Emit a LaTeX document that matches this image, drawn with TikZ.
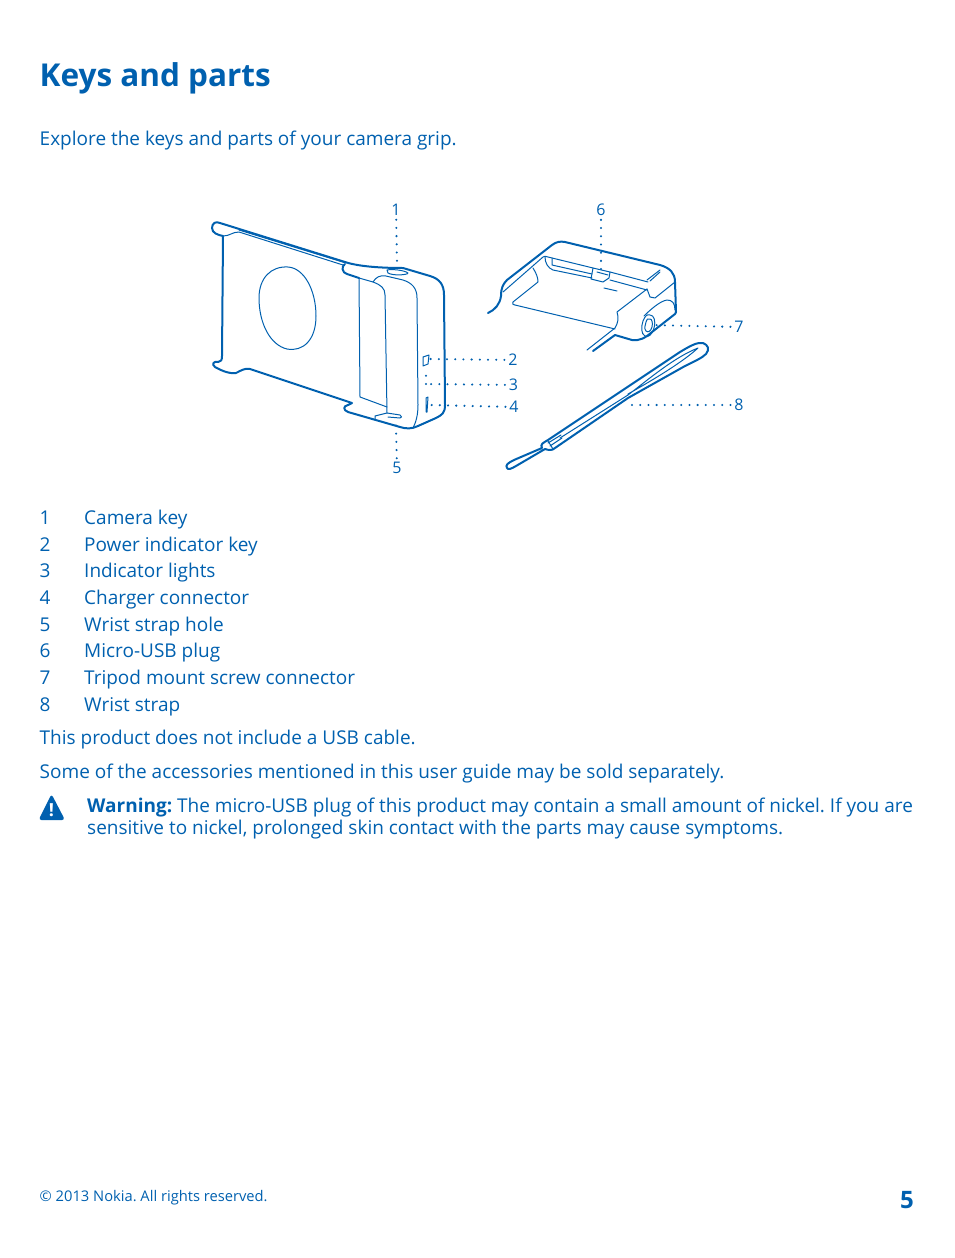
\documentclass[tikz,border=0pt]{standalone}
\usepackage{fontspec}
\setmainfont{Open Sans}
\usepackage{xcolor}
\usepackage{tikz}
\usetikzlibrary{positioning}
\definecolor{nokiablue}{HTML}{0060AF}
\tikzset{
  txt/.style    = {nokiablue, anchor=base west, inner sep=0pt, font=\frenchspacing\fontsize{19}{23}\selectfont},
  heading/.style = {txt, font=\fontsize{31.5}{38}\selectfont\bfseries},
  callout/.style = {nokiablue, inner sep=0pt, outer sep=4pt, font=\fontsize{16}{19}\selectfont},
  leader/.style = {nokiablue, line width=2.3pt, line cap=round, dash pattern=on 0pt off 8.2pt},
  heavy/.style  = {nokiablue, line width=2pt, line join=round, line cap=round},
  thin/.style   = {nokiablue, line width=1pt, line join=round, line cap=round},
}
\begin{document}
\begin{tikzpicture}[x=1pt,y=-1pt]
      \useasboundingbox (0,0) rectangle (954,1258);
      \node [heading] (title) at (39.5,86) {Keys and parts};
      \node [txt] (intro) at (39.5,145) {Explore the keys and parts of your camera grip.};

      % grip body
      \draw[heavy] (223,236) .. controls (218,235) and (212,233) .. (212,228)
        .. controls (212,223) and (216,221) .. (220,223) -- (345,262)
        .. controls (360,267) and (385,268) .. (403,268) -- (430,276)
        .. controls (440,279) and (444,285) .. (444,295) -- (445,405)
        .. controls (445,413) and (442,415) .. (436,418) -- (418,426)
        .. controls (412,429) and (406,429) .. (400,427) -- (348,412)
        .. controls (343,410) and (343,406) .. (348,405) -- (352,403)
        -- (250,369) .. controls (245,368) and (242,370) .. (236,373)
        .. controls (230,374) and (222,371) .. (215,367)
        .. controls (211,364) and (214,361) .. (218,362)
        .. controls (221,362) and (222,360) .. (222,356) -- (223,236);
      \draw[thin] (223,236) .. controls (230,236) and (232,232) .. (239,232) -- (343,265);
      \draw[thin] (239,230) -- (346,263);
      \draw[heavy] (345,264) .. controls (341,266) and (342,273) .. (347,274) -- (359,278);
      \draw[thin] (359,278) -- (373,282) .. controls (376,277) and (380,275) .. (386,276) -- (403,280)
        .. controls (412,283) and (417,288) .. (417,298) -- (418,405)
        .. controls (418,415) and (416,422) .. (413,428);
      \draw[thin] (359,278) -- (360,397) -- (387,407);
      \draw[thin] (373,282) .. controls (381,285) and (385,288) .. (385,295) -- (387,413);
      \draw[thin] (375,419) -- (375,416) -- (387,413) -- (400,415)
        .. controls (402,416) and (402,418) .. (400,418) -- (388,417);
      \draw[thin] (288,267) .. controls (304,268) and (316,290) .. (316,316)
        .. controls (316,340) and (303,352) .. (287,349)
        .. controls (270,345) and (259,323) .. (259,298)
        .. controls (259,278) and (271,266) .. (288,267);
      \draw[thin] (387,270) .. controls (392,269) and (404,270) .. (408,273)
        .. controls (408,275) and (393,276) .. (388,273) -- cycle;
      \draw[thin] (423,357) -- (429,355) -- (428,364) -- (423,366) -- cycle;
      \draw[thin] (426,398) -- (428,397) -- (427,412) -- (426,412) -- cycle;

      % grip handle part
      \draw[heavy] (488,313) .. controls (495,310) and (500,304) .. (501,296)
        .. controls (501,288) and (503,284) .. (507,280) -- (552,245)
        .. controls (556,242) and (560,241) .. (565,242) -- (660,265)
        .. controls (670,268) and (675,273) .. (675,282) -- (676,312);
      \draw[heavy] (676,312) -- (675,314) -- (652,332)
        .. controls (645,338) and (640,341) .. (632,340) -- (615,335) -- (593,351);
      \draw[thin] (503,292) -- (543,257) .. controls (544,256) and (546,256) .. (548,257) -- (593,268);
      \draw[thin] (610,272) -- (648,282);
      \draw[thin] (587,350) -- (615,328) .. controls (618,323) and (619,318) .. (617,312) -- (647,289);
      \draw[thin] (647,280) -- (660,270);
      \draw[thin] (650,281) -- (660,272);
      \draw[thin] (647,289) -- (650,297) -- (655,298) -- (675,282);
      \draw[thin] (513,302) -- (538,282) .. controls (538,277) and (536,273) .. (533,268);
      \draw[thin] (513,302) .. controls (512,304) and (513,305) .. (515,305) -- (615,329);
      \draw[thin] (545,257) .. controls (545,263) and (548,268) .. (553,270) -- (592,278);
      \draw[thin] (552,258) -- (552,265) -- (592,274);
      \draw[thin] (610,280) -- (647,290);
      \draw[thin] (593,268) -- (610,272) -- (609,278) -- (603,282) -- (591,279) -- cycle;
      \draw[thin] (597,272) -- (608,275);
      \draw[thin] (604,288) -- (617,291);
      \draw[thin] (644,316) .. controls (650,310) and (660,301) .. (667,300)
        .. controls (672,300) and (675,303) .. (675,310);
      \draw[thin] (650,315) .. controls (654,315) and (656,321) .. (654,328)
        .. controls (652,335) and (648,338) .. (645,336)
        .. controls (641,334) and (641,327) .. (643,321)
        .. controls (645,316) and (647,314) .. (650,315);
      \draw[thin] (650,319) .. controls (652,319) and (653,323) .. (652,327)
        .. controls (651,331) and (648,333) .. (646,331)
        .. controls (644,329) and (645,325) .. (646,322)
        .. controls (647,319) and (648,318) .. (650,319);

      % wrist strap
      \draw[heavy] (507,468) .. controls (505,465) and (508,463) .. (514,460)
        -- (542,448) .. controls (540,444) and (543,443) .. (548,440)
        -- (680,352) .. controls (690,346) and (697,342) .. (703,343)
        .. controls (708,345) and (710,349) .. (706,354)
        .. controls (702,358) and (695,361) .. (685,366)
        -- (628,398) -- (555,448) .. controls (552,451) and (548,450) .. (545,449)
        -- (516,466) .. controls (511,469) and (508,470) .. (507,468);
      \draw[thin] (560,438) -- (628,395) .. controls (650,378) and (675,357) .. (698,348)
        .. controls (685,360) and (660,376) .. (628,394);
      \draw[thin] (548,441) -- (553,449);
      \draw[thin] (548,443) -- (561,435);
      \draw[thin] (550,446) -- (562,438);

      % callouts
      \node [callout] (n1) at (396,210) {1};
      \node [callout] (n2) at (513,360) {2};
      \node [callout] (n3) at (513.5,385) {3};
      \node [callout] (n4) at (514,407) {4};
      \node [callout] (n5) at (397,468) {5};
      \node [callout] (n6) at (601,210) {6};
      \node [callout] (n7) at (739,327) {7};
      \node [callout] (n8) at (739,405) {8};
      \coordinate (p1) at (397,262);
      \coordinate (p2) at (430,359);
      \coordinate (p3) at (426,384);
      \coordinate (p3b) at (426,372);
      \coordinate (p4) at (430,405);
      \coordinate (p5) at (396,425);
      \coordinate (p6) at (601,270);
      \coordinate (p7) at (652,325);
      \coordinate (p8) at (632,405);
      \path (n1) edge[leader] (p1);
      \path (n2) edge[leader] (p2);
      \path (n3) edge[leader] (p3);
      \path (p3) edge[leader] (p3b);
      \path (n4) edge[leader] (p4);
      \path (n5) edge[leader] (p5);
      \path (n6) edge[leader] (p6);
      \path (n7) edge[leader] (p7);
      \path (n8) edge[leader] (p8);

      % key list
      \node [txt] (k1) at (39.5,524) {1};
      \node [txt] (k2) at (39.5,551) {2};
      \node [txt] (k3) at (39.5,577) {3};
      \node [txt] (k4) at (39.5,604) {4};
      \node [txt] (k5) at (39.5,631) {5};
      \node [txt] (k6) at (39.5,657) {6};
      \node [txt] (k7) at (39.5,684) {7};
      \node [txt] (k8) at (39.5,711) {8};
      \node [txt] (l1) at (84,524) {Camera key};
      \node [txt] (l2) at (84,551) {Power indicator key};
      \node [txt] (l3) at (84,577) {Indicator lights};
      \node [txt] (l4) at (84,604) {Charger connector};
      \node [txt] (l5) at (84,631) {Wrist strap hole};
      \node [txt] (l6) at (84,657) {Micro-USB plug};
      \node [txt] (l7) at (84,684) {Tripod mount screw connector};
      \node [txt] (l8) at (84,711) {Wrist strap};
      \node [txt] (note1) at (39.5,744) {This product does not include a USB cable.};
      \node [txt] (note2) at (39.5,778) {Some of the accessories mentioned in this user guide may be sold separately.};

      % warning
      \fill[nokiablue, rounded corners=3pt] (51.5,794) -- (65,820) -- (38.5,820) -- cycle;
      \node [txt, white, font=\fontsize{18}{20}\selectfont\bfseries, anchor=base] (mark) at (51.5,816.5) {!};
      \node [txt] (warn1) at (87,812) {\textbf{Warning:} The micro-USB plug of this product may contain a small amount of nickel. If you are};
      \node [txt] (warn2) at (87,834) {sensitive to nickel, prolonged skin contact with the parts may cause symptoms.};

      % footer
      \node [txt, font=\frenchspacing\fontsize{14.7}{18}\selectfont] (copy) at (39.5,1201) {© 2013 Nokia. All rights reserved.};
      \node [txt, font=\fontsize{24}{28}\selectfont\bfseries] (page) at (900,1208) {5};
\end{tikzpicture}
\end{document}
